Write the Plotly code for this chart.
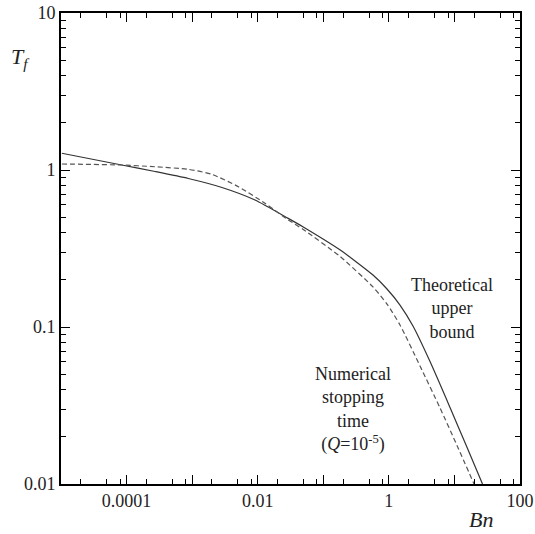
import plotly.graph_objects as go

# Theoretical upper bound (solid)
bn_bound = [1.03e-5, 8.43e-5, 2.72e-4, 8.74e-4, 2.85e-3, 9.10e-3, 0.0292, 0.0495, 0.1816, 0.573,
            0.937, 1.479, 2.333, 4.244, 8.57, 15.03, 26.8]
tf_bound = [1.278, 1.076, 0.978, 0.883, 0.774, 0.644, 0.492, 0.4335, 0.309, 0.2143,
            0.1746, 0.1380, 0.1014, 0.0602, 0.0307, 0.0177, 0.0100]

# Numerical stopping time, Q = 1e-5 (dashed)
bn_num = [1.03e-5, 8.43e-5, 2.72e-4, 8.74e-4, 1.99e-3, 5.06e-3, 0.0129, 0.0292, 0.0495,
          0.1816, 0.573, 0.937, 1.479, 2.985, 6.03, 10.94, 19.9]
tf_num = [1.092, 1.076, 1.049, 1.010, 0.939, 0.783, 0.614, 0.481, 0.418,
          0.2806, 0.1799, 0.140, 0.1030, 0.0565, 0.0305, 0.01762, 0.0100]

x_major = [1e-5, 1e-4, 1e-3, 1e-2, 1e-1, 1, 10, 100]
x_labels = ["", "0.0001", "", "0.01", "", "1", "", "100"]
y_major = [0.01, 0.1, 1, 10]
y_labels = ["0.01", "0.1", "1", "10"]

x_minor = [m * d for d in [1e-5, 1e-4, 1e-3, 1e-2, 1e-1, 1, 10] for m in (2, 5, 8)]
y_minor = [m * d for d in [0.01, 0.1, 1] for m in range(2, 10)]

font = "Liberation Serif, Times New Roman, serif"

fig = go.Figure()
fig.add_trace(go.Scatter(x=bn_bound, y=tf_bound, mode="lines",
                         line=dict(color="#333", width=1.2, shape="spline", smoothing=0.6)))
fig.add_trace(go.Scatter(x=bn_num, y=tf_num, mode="lines",
                         line=dict(color="#555", width=1.2, dash="5px,3px", shape="spline", smoothing=0.6)))

axis_common = dict(showline=True, linecolor="black", linewidth=1.6, mirror="allticks",
                   ticks="inside", ticklen=9, tickwidth=1.4, tickcolor="black",
                   showgrid=False, zeroline=False, automargin=False,
                   tickfont=dict(family=font, size=18, color="#222"))

fig.update_xaxes(type="log", range=[-5, 2], tickvals=x_major, ticktext=x_labels,
                 minor=dict(tickvals=x_minor, ticks="inside", ticklen=5, tickwidth=1.4, tickcolor="black", showgrid=False),
                 **axis_common)
fig.update_yaxes(type="log", range=[-2, 1], tickvals=y_major, ticktext=y_labels,
                 minor=dict(tickvals=y_minor, ticks="inside", ticklen=5, tickwidth=1.4, tickcolor="black", showgrid=False),
                 **axis_common)

L, R, T, B = 61, 15, 13, 50
W, H = 535, 534
pw, ph = W - L - R, H - T - B


def px_to_paper(px, py):
    return (px - L) / pw, 1 - (py - T) / ph


notes = [
    (452, 308, "Theoretical<br>upper<br>bound", 18),
    (353, 409, "Numerical<br>stopping<br>time<br>(<i>Q</i>=10<sup>-5</sup>)", 18),
    (20, 58, "<i>T</i><sub><i>f</i></sub>", 22),
    (481, 519, "<i>Bn</i>", 22),
]
for px, py, txt, sz in notes:
    xp, yp = px_to_paper(px, py)
    fig.add_annotation(x=xp, y=yp, xref="paper", yref="paper", text=txt, showarrow=False,
                       xanchor="center", yanchor="middle",
                       font=dict(family=font, size=sz, color="#222"), align="center")

fig.update_layout(width=W, height=H, margin=dict(l=L, r=R, t=T, b=B, autoexpand=False),
                  plot_bgcolor="white", paper_bgcolor="white", showlegend=False)

fig.write_html("out.html")
